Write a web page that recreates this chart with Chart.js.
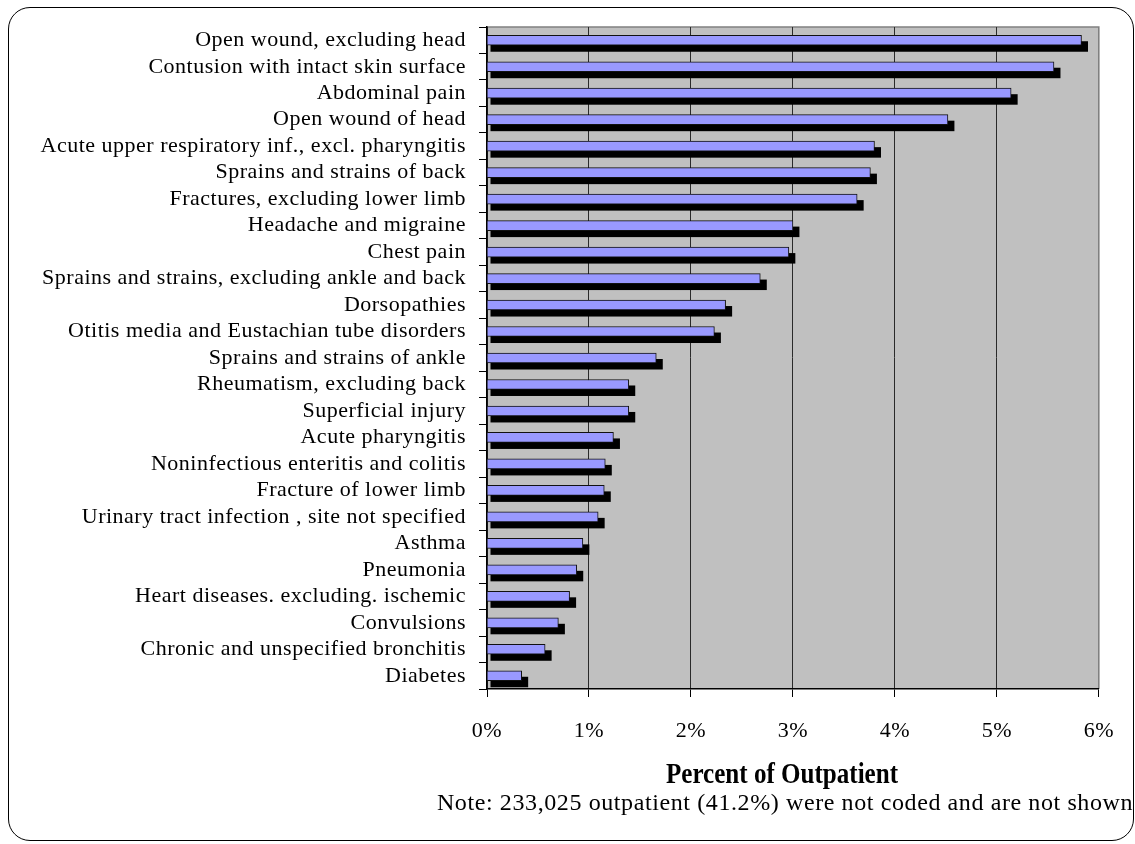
<!DOCTYPE html>
<html>
<head>
<meta charset="utf-8">
<script src="https://cdn.jsdelivr.net/npm/chart.js@4"></script>
<style>
html, body { margin: 0; padding: 0; background: #fff; }
#wrap { position: relative; width: 1135px; height: 844px; overflow: hidden; }
#chart { position: absolute; left: 0; top: 0; }
#frame { position: absolute; left: 8px; top: 7px; width: 1124px; height: 832px;
         border: 1.5px solid #000; border-radius: 22px; pointer-events: none; }
</style>
</head>
<body>
<div id="wrap">
  <canvas id="chart" width="1135" height="844"></canvas>
  <div id="frame"></div>
</div>
<script>
const categories = [
	"Open wound, excluding head",
	"Contusion with intact skin surface",
	"Abdominal pain",
	"Open wound of head",
	"Acute upper respiratory inf., excl. pharyngitis",
	"Sprains and strains of back",
	"Fractures, excluding lower limb",
	"Headache and migraine",
	"Chest pain",
	"Sprains and strains, excluding ankle and back",
	"Dorsopathies",
	"Otitis media and Eustachian tube disorders",
	"Sprains and strains of ankle",
	"Rheumatism, excluding back",
	"Superficial injury",
	"Acute pharyngitis",
	"Noninfectious enteritis and colitis",
	"Fracture of lower limb",
	"Urinary tract infection , site not specified",
	"Asthma",
	"Pneumonia",
	"Heart diseases. excluding. ischemic",
	"Convulsions",
	"Chronic and unspecified bronchitis",
	"Diabetes"
];
const outpatientPct = [
	5.83, 5.56, 5.14, 4.52, 3.80, 3.76, 3.63, 3.00, 2.96, 2.68,
	2.34, 2.23, 1.66, 1.39, 1.39, 1.24, 1.16, 1.15, 1.09, 0.94,
	0.88, 0.81, 0.70, 0.57, 0.34
];
const xTicks = [0, 1, 2, 3, 4, 5, 6];
const axisTitle = "Percent of Outpatient";
const noteText = "Note: 233,025 outpatient (41.2%) were not coded and are not shown";

const serif = "'Liberation Serif', 'Times New Roman', serif";

// the pdf text is a little spread out
const spacing = {
	id: 'spacing',
	beforeUpdate(chart) { chart.ctx.letterSpacing = '0.5px'; },
	beforeDraw(chart) { chart.ctx.letterSpacing = '0.5px'; }
};

const plotBg = {
	id: 'plotBg',
	beforeDraw(chart) {
		const ctx = chart.ctx;
		const a = chart.chartArea;
		ctx.save();
		ctx.fillStyle = '#c0c0c0';
		ctx.fillRect(a.left, a.top, a.right - a.left, a.bottom - a.top);
		ctx.strokeStyle = '#808080';
		ctx.lineWidth = 1.5;
		ctx.beginPath();
		ctx.moveTo(a.left, a.top);
		ctx.lineTo(a.right, a.top);
		ctx.lineTo(a.right, a.bottom);
		ctx.stroke();
		ctx.restore();
	}
};

// black offset block behind every bar (the 3d look)
const barShadow = {
	id: 'barShadow',
	beforeDatasetsDraw(chart) {
		const ctx = chart.ctx;
		const meta = chart.getDatasetMeta(0);
		ctx.save();
		ctx.fillStyle = '#000';
		for (const bar of meta.data) {
			const p = bar.getProps(['x', 'y', 'base', 'height'], true);
			ctx.fillRect(p.base + 3, p.y - p.height / 2 + 6, p.x - p.base + 3.5, p.height + 0.5);
		}
		ctx.restore();
	}
};

const captions = {
	id: 'captions',
	afterDraw(chart) {
		const ctx = chart.ctx;
		ctx.save();
		ctx.letterSpacing = '0px';
		ctx.fillStyle = '#000';
		ctx.font = 'bold 29px ' + serif;
		ctx.textAlign = 'center';
		ctx.textBaseline = 'alphabetic';
		const w = ctx.measureText(axisTitle).width;
		ctx.translate(782, 783);
		ctx.scale(232 / w, 1);
		ctx.fillText(axisTitle, 0, 0);
		ctx.restore();

		ctx.save();
		ctx.letterSpacing = '0.6px';
		ctx.fillStyle = '#000';
		ctx.font = '24px ' + serif;
		ctx.textAlign = 'center';
		ctx.textBaseline = 'alphabetic';
		ctx.fillText(noteText, 785, 810);
		ctx.restore();
	}
};

new Chart(document.getElementById('chart'), {
	type: 'bar',
	data: {
		labels: categories,
		datasets: [{
			data: outpatientPct,
			backgroundColor: '#9999ff',
			borderColor: '#111',
			borderWidth: 1,
			barThickness: 10
		}]
	},
	options: {
		indexAxis: 'y',
		responsive: false,
		animation: false,
		layout: { padding: { top: 27, right: 32, left: 0, bottom: 0 } },
		plugins: {
			legend: { display: false },
			tooltip: { enabled: false }
		},
		scales: {
			x: {
				min: 0,
				max: 6,
				afterFit(s) { s.height = 155; },
				afterBuildTicks(s) { s.ticks = xTicks.map(v => ({ value: v })); },
				grid: {
					color: c => (c.tick && c.tick.value === 6) ? '#808080' : '#2a2a2a',
					lineWidth: 1,
					tickLength: 8,
					tickColor: '#000'
				},
				border: { color: '#000', width: 1.5 },
				ticks: {
					color: '#000',
					padding: 21,
					font: { family: serif, size: 22 },
					callback: v => v + '%'
				}
			},
			y: {
				afterFit(s) { s.width = 487; },
				grid: {
					drawOnChartArea: false,
					tickLength: 8,
					tickColor: '#000'
				},
				border: { color: '#000', width: 1.5 },
				ticks: {
					color: '#000',
					padding: 13,
					autoSkip: false,
					font: { family: serif, size: 22 }
				}
			}
		}
	},
	plugins: [spacing, plotBg, barShadow, captions]
});
</script>
</body>
</html>
